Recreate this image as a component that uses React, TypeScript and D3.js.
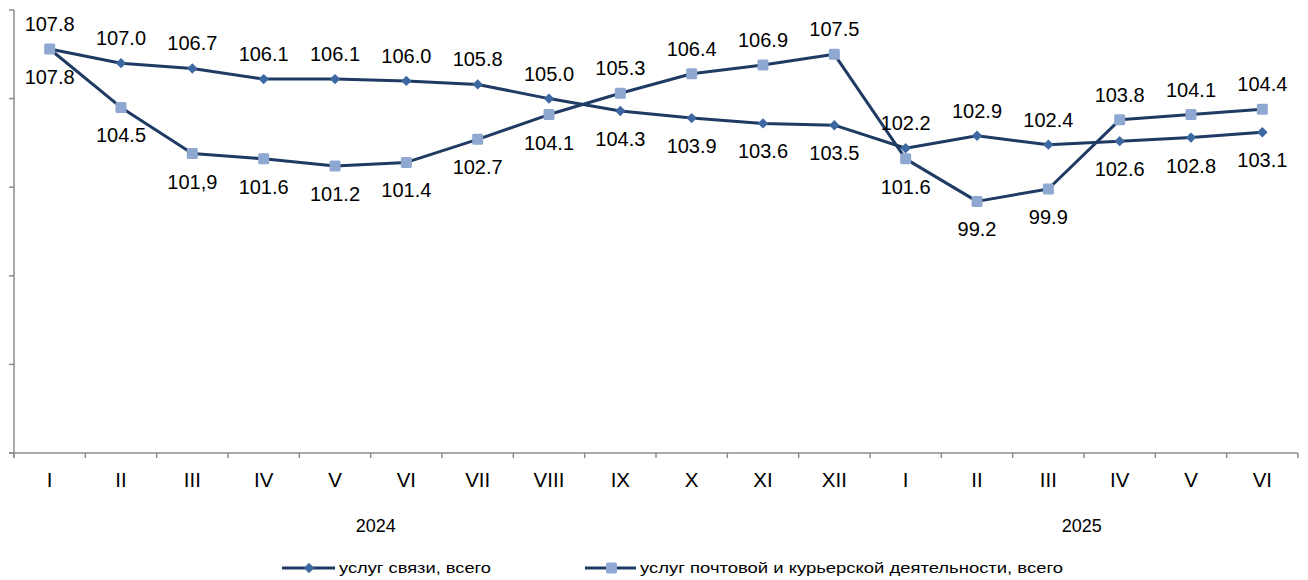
import React from 'react';
import * as d3 from 'd3';

// months (roman) for 2024 and 2025
const months = ['I', 'II', 'III', 'IV', 'V', 'VI', 'VII', 'VIII', 'IX', 'X', 'XI', 'XII', 'I', 'II', 'III', 'IV', 'V', 'VI'];
const commValues = [107.8, 107.0, 106.7, 106.1, 106.1, 106.0, 105.8, 105.0, 104.3, 103.9, 103.6, 103.5, 102.2, 102.9, 102.4, 102.6, 102.8, 103.1];
const postValues = [107.8, 104.5, 101.9, 101.6, 101.2, 101.4, 102.7, 104.1, 105.3, 106.4, 106.9, 107.5, 101.6, 99.2, 99.9, 103.8, 104.1, 104.4];
// label text as printed (one uses a comma)
const postText = ['107.8', '104.5', '101,9', '101.6', '101.2', '101.4', '102.7', '104.1', '105.3', '106.4', '106.9', '107.5', '101.6', '99.2', '99.9', '103.8', '104.1', '104.4'];
// label placement: 1 = above the point, -1 = below
const commPlace = [1, 1, 1, 1, 1, 1, 1, 1, -1, -1, -1, -1, 1, 1, 1, -1, -1, -1];
const postPlace = [-1, -1, -1, -1, -1, -1, -1, -1, 1, 1, 1, 1, -1, -1, -1, 1, 1, 1];
const yTicks = [85, 90, 95, 100, 105, 110];
// year captions, position given in category steps from the left edge
const years = [{ label: '2024', at: 5.07 }, { label: '2025', at: 14.97 }];
const seriesNames = ['услуг связи, всего', 'услуг почтовой и курьерской деятельности, всего'];

const W = 1308, H = 580;
const left = 14, right = 1298, top = 10, bottom = 453;
const lineColor = '#1f3b63';
const diamondColor = '#3d68a2';
const squareColor = '#8ea8d1';
const axisColor = '#8c8c8c';
const font = '"Liberation Sans", Arial, sans-serif';

const App = () => {
  const x = d3.scaleBand<number>().domain(d3.range(months.length)).range([left, right]);
  const y = d3.scaleLinear().domain([85, 110]).range([bottom, top]);
  const cx = (i: number) => (x(i) as number) + x.bandwidth() / 2;

  const line = d3.line<number>().x((_, i) => cx(i)).y(d => y(d));
  // diamond = square turned 45 degrees
  const diamond = d3.symbol().type(d3.symbolSquare).size(54)();

  const labelY = (v: number, place: number) => (place > 0 ? y(v) - 18 : y(v) + 35);

  return (
    <div style={{ position: 'absolute', left: 0, top: 0 }}>
      <svg width={W} height={H} style={{ display: 'block', fontFamily: font }}>
        <rect width={W} height={H} fill="#fff" />
        {/* y axis */}
        <line x1={left} x2={left} y1={top} y2={bottom + 5} stroke={axisColor} strokeWidth={1.5} />
        {yTicks.map(t => (
          <line key={t} x1={left - 5} x2={left} y1={y(t)} y2={y(t)} stroke={axisColor} strokeWidth={1.5} />
        ))}
        {/* x axis */}
        <line x1={left - 5} x2={right} y1={bottom} y2={bottom} stroke={axisColor} strokeWidth={1.5} />
        {d3.range(months.length + 1).map(i => (
          <line key={i} x1={left + i * x.step()} x2={left + i * x.step()} y1={bottom} y2={bottom + 5} stroke={axisColor} strokeWidth={1.5} />
        ))}
        {months.map((m, i) => (
          <text key={i} x={cx(i)} y={487} textAnchor="middle" fontSize={20.5} fill="#000">{m}</text>
        ))}
        {years.map(yr => (
          <text key={yr.label} x={left + yr.at * x.step()} y={532} textAnchor="middle" fontSize={18} fill="#000">{yr.label}</text>
        ))}

        {/* lines */}
        <path d={line(commValues) || ''} fill="none" stroke={lineColor} strokeWidth={3} strokeLinejoin="round" />
        <path d={line(postValues) || ''} fill="none" stroke={lineColor} strokeWidth={3} strokeLinejoin="round" />
        {commValues.map((v, i) => (
          <path key={i} d={diamond || ''} transform={`translate(${cx(i)},${y(v)}) rotate(45)`} fill={diamondColor} />
        ))}
        {postValues.map((v, i) => (
          <rect key={i} x={cx(i) - 5.5} y={y(v) - 5.5} width={11} height={11} rx={1.5} fill={squareColor} />
        ))}

        {/* data labels */}
        {commValues.map((v, i) => (
          <text key={i} x={cx(i)} y={labelY(v, commPlace[i])} textAnchor="middle" fontSize={20} fill="#000">{v.toFixed(1)}</text>
        ))}
        {postValues.map((v, i) => (
          <text key={i} x={cx(i)} y={labelY(v, postPlace[i])} textAnchor="middle" fontSize={20} fill="#000">{postText[i]}</text>
        ))}

        {/* legend */}
        <g transform="translate(282,568)">
          <line x1={0} x2={53} y1={0} y2={0} stroke={lineColor} strokeWidth={3} />
          <path d={diamond || ''} transform="translate(27,0) rotate(45)" fill={diamondColor} />
          <text x={57} y={5} fontSize={15} fill="#000" textLength={152} lengthAdjust="spacingAndGlyphs">{seriesNames[0]}</text>
        </g>
        <g transform="translate(585,568)">
          <line x1={0} x2={51} y1={0} y2={0} stroke={lineColor} strokeWidth={3} />
          <rect x={21} y={-5.5} width={11} height={11} rx={1.5} fill={squareColor} />
          <text x={55} y={5} fontSize={15} fill="#000" textLength={423} lengthAdjust="spacingAndGlyphs">{seriesNames[1]}</text>
        </g>
      </svg>
    </div>
  );
};

export default App;
